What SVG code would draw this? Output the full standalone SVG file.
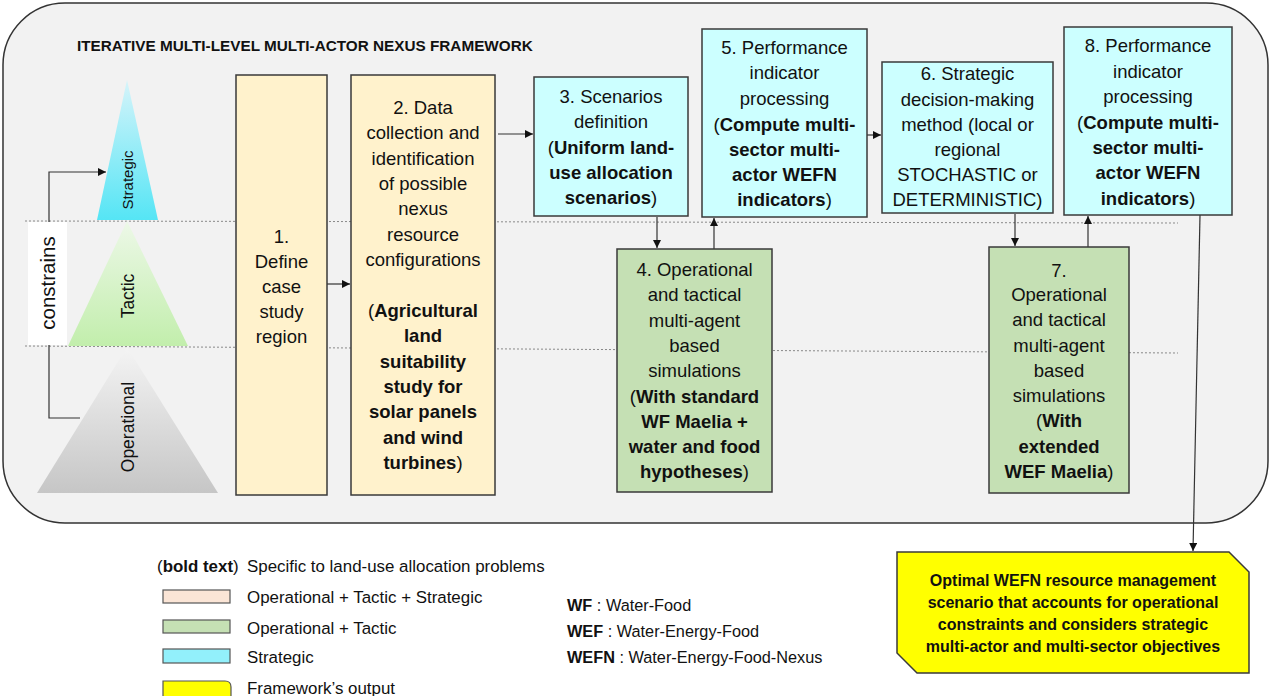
<svg xmlns="http://www.w3.org/2000/svg" width="1271" height="696" viewBox="0 0 1271 696">
<defs>
<style>
text{font-family:"Liberation Sans",Arial,sans-serif;fill:#111;}
.bx{font-size:18.5px;text-anchor:middle;}
.b{font-weight:bold;}
.box{stroke:#3a3a3a;stroke-width:1.5;}
.y{fill:#fff2cc;}
.c{fill:#ccffff;}
.g{fill:#c5e0b4;}
.conn{fill:none;stroke:#333;stroke-width:1.2;}
.dot{stroke:#888;stroke-width:1;stroke-dasharray:2 2;fill:none;}
.lg{font-size:16.9px;}
.ab{font-size:16.3px;}
.out{font-size:16px;font-weight:bold;text-anchor:middle;}
</style>
<marker id="ah" viewBox="0 0 10 10" refX="10" refY="5" markerWidth="8" markerHeight="8" orient="auto" markerUnits="userSpaceOnUse"><path d="M0,0 L10,5 L0,10 z" fill="#111"/></marker>
<linearGradient id="gS" x1="0" y1="0" x2="0" y2="1"><stop offset="0" stop-color="#d6f4fa"/><stop offset="1" stop-color="#55e5f5"/></linearGradient>
<linearGradient id="gT" x1="0" y1="0" x2="0" y2="1"><stop offset="0" stop-color="#edf8e8"/><stop offset="1" stop-color="#c2eeac"/></linearGradient>
<linearGradient id="gO" x1="0" y1="0" x2="0" y2="1"><stop offset="0" stop-color="#f4f4f4"/><stop offset="1" stop-color="#c6c6c6"/></linearGradient>
</defs>
<rect width="1271" height="696" fill="#ffffff"/>
<g id="frame">
<rect x="3" y="3" width="1265" height="520" rx="62" ry="62" fill="#f2f2f2" stroke="#333" stroke-width="1.5"/>
<text x="77" y="51" class="b" style="font-size:15.3px">ITERATIVE MULTI-LEVEL MULTI-ACTOR NEXUS FRAMEWORK</text>
<path class="dot" d="M25,221 L1178,223"/>
<path class="dot" d="M25,346 L1178,353"/>
</g>
<g id="levels">
<polygon points="127,80 158,220 97,220" fill="url(#gS)"/>
<polygon points="127,221 188,346 68,346" fill="url(#gT)"/>
<polygon points="127,347 218,493 37,493" fill="url(#gO)"/>
<text transform="translate(133,180) rotate(-90)" text-anchor="middle" style="font-size:15px">Strategic</text>
<text transform="translate(134,296) rotate(-90)" text-anchor="middle" style="font-size:17.5px">Tactic</text>
<text transform="translate(134,427) rotate(-90)" text-anchor="middle" style="font-size:17.5px">Operational</text>
</g>
<g id="connectors">
<path class="conn" d="M80,418 H49 V172 H106" marker-end="url(#ah)"/>
<path class="conn" d="M327,284 H350" marker-end="url(#ah)"/>
<path class="conn" d="M498,134 H533" marker-end="url(#ah)"/>
<path class="conn" d="M657,217 V248" marker-end="url(#ah)"/>
<path class="conn" d="M714,249 V218" marker-end="url(#ah)"/>
<path class="conn" d="M867,135 H881" marker-end="url(#ah)"/>
<path class="conn" d="M1015,214 V246" marker-end="url(#ah)"/>
<path class="conn" d="M1088,247 V216" marker-end="url(#ah)"/>
<path class="conn" d="M1200,215 L1193,551" marker-end="url(#ah)"/>
</g>
<g id="constrains">
<rect x="28" y="222" width="39" height="123" fill="#ffffff"/>
<text transform="translate(55,283) rotate(-90)" text-anchor="middle" style="font-size:20.5px">constrains</text>
</g>
<g id="n1">
<rect class="box y" x="236" y="75" width="91" height="420"/>
<text class="bx" x="281.5" y="243">1.</text>
<text class="bx" x="281.5" y="268">Define</text>
<text class="bx" x="281.5" y="293">case</text>
<text class="bx" x="281.5" y="318">study</text>
<text class="bx" x="281.5" y="343">region</text>
</g>
<g id="n2">
<rect class="box y" x="351" y="75" width="144" height="420"/>
<text class="bx" x="423" y="114">2. Data</text>
<text class="bx" x="423" y="139.4">collection and</text>
<text class="bx" x="423" y="164.7">identification</text>
<text class="bx" x="423" y="190">of possible</text>
<text class="bx" x="423" y="215.4">nexus</text>
<text class="bx" x="423" y="240.8">resource</text>
<text class="bx" x="423" y="266.1">configurations</text>
<text class="bx" x="423" y="316.8">(<tspan class="b">Agricultural</tspan></text>
<text class="bx b" x="423" y="342.2">land</text>
<text class="bx b" x="423" y="367.5">suitability</text>
<text class="bx b" x="423" y="392.9">study for</text>
<text class="bx b" x="423" y="418.2">solar panels</text>
<text class="bx b" x="423" y="443.6">and wind</text>
<text class="bx" x="423" y="468.9"><tspan class="b">turbines</tspan>)</text>
</g>
<g id="n3">
<rect class="box c" x="534" y="77" width="154" height="139"/>
<text class="bx" x="611" y="103">3. Scenarios</text>
<text class="bx" x="611" y="128">definition</text>
<text class="bx" x="611" y="154">(<tspan class="b">Uniform land-</tspan></text>
<text class="bx b" x="611" y="179">use allocation</text>
<text class="bx" x="611" y="204"><tspan class="b">scenarios</tspan>)</text>
</g>
<g id="n5">
<rect class="box c" x="702" y="29" width="165" height="188"/>
<text class="bx" x="784.5" y="54">5. Performance</text>
<text class="bx" x="784.5" y="79">indicator</text>
<text class="bx" x="784.5" y="105">processing</text>
<text class="bx" x="784.5" y="131">(<tspan class="b">Compute multi-</tspan></text>
<text class="bx b" x="784.5" y="156">sector multi-</text>
<text class="bx b" x="784.5" y="181">actor WEFN</text>
<text class="bx" x="784.5" y="206"><tspan class="b">indicators</tspan>)</text>
</g>
<g id="n4">
<rect class="box g" x="617" y="249" width="155" height="243"/>
<text class="bx" x="694.5" y="276">4. Operational</text>
<text class="bx" x="694.5" y="301">and tactical</text>
<text class="bx" x="694.5" y="327">multi-agent</text>
<text class="bx" x="694.5" y="352">based</text>
<text class="bx" x="694.5" y="377">simulations</text>
<text class="bx" x="694.5" y="403">(<tspan class="b">With standard</tspan></text>
<text class="bx b" x="694.5" y="428">WF Maelia +</text>
<text class="bx b" x="694.5" y="453">water and food</text>
<text class="bx" x="694.5" y="478"><tspan class="b">hypotheses</tspan>)</text>
</g>
<g id="n6">
<rect class="box c" x="882" y="62" width="171" height="151"/>
<text class="bx" x="967.5" y="80">6. Strategic</text>
<text class="bx" x="967.5" y="106">decision-making</text>
<text class="bx" x="967.5" y="131">method (local or</text>
<text class="bx" x="967.5" y="156">regional</text>
<text class="bx" x="967.5" y="181">STOCHASTIC or</text>
<text class="bx" x="967.5" y="206">DETERMINISTIC)</text>
</g>
<g id="n8">
<rect class="box c" x="1064" y="27" width="168" height="188"/>
<text class="bx" x="1148" y="52">8. Performance</text>
<text class="bx" x="1148" y="78">indicator</text>
<text class="bx" x="1148" y="103">processing</text>
<text class="bx" x="1148" y="129">(<tspan class="b">Compute multi-</tspan></text>
<text class="bx b" x="1148" y="154">sector multi-</text>
<text class="bx b" x="1148" y="179">actor WEFN</text>
<text class="bx" x="1148" y="205"><tspan class="b">indicators</tspan>)</text>
</g>
<g id="n7">
<rect class="box g" x="989" y="247" width="140" height="246"/>
<text class="bx" x="1059" y="277">7.</text>
<text class="bx" x="1059" y="301">Operational</text>
<text class="bx" x="1059" y="326">and tactical</text>
<text class="bx" x="1059" y="352">multi-agent</text>
<text class="bx" x="1059" y="377">based</text>
<text class="bx" x="1059" y="402">simulations</text>
<text class="bx" x="1059" y="427">(<tspan class="b">With</tspan></text>
<text class="bx b" x="1059" y="453">extended</text>
<text class="bx" x="1059" y="478"><tspan class="b">WEF Maelia</tspan>)</text>
</g>
<g id="output">
<path d="M897,552 H1229 L1249,572 V673 H917 L897,653 Z" fill="#ffff00" stroke="#3a3a3a" stroke-width="1.5"/>
<text class="out" x="1073" y="586">Optimal WEFN resource management</text>
<text class="out" x="1073" y="608">scenario that accounts for operational</text>
<text class="out" x="1073" y="630">constraints and considers strategic</text>
<text class="out" x="1073" y="652">multi-actor and multi-sector objectives</text>
</g>
<g id="legend">
<text class="lg" x="157" y="572">(<tspan class="b">bold text</tspan>)</text>
<text class="lg" x="247" y="572">Specific to land-use allocation problems</text>
<rect x="163" y="590" width="67" height="13" fill="#fbe5d6" stroke="#555" stroke-width="1.2"/>
<text class="lg" x="247" y="603">Operational + Tactic + Strategic</text>
<rect x="163" y="620" width="67" height="13" fill="#c5e0b4" stroke="#555" stroke-width="1.2"/>
<text class="lg" x="247" y="634">Operational + Tactic</text>
<rect x="163" y="649" width="67" height="14" fill="#92f0fb" stroke="#555" stroke-width="1.2"/>
<text class="lg" x="247" y="663">Strategic</text>
<path d="M163,700 V681 H225 Q231,681 231,687 V700" fill="#ffff00" stroke="#555" stroke-width="1.2"/>
<text class="lg" x="247" y="694">Framework’s output</text>
</g>
<g id="abbrev">
<text class="ab" x="567" y="611"><tspan class="b">WF</tspan> : Water-Food</text>
<text class="ab" x="567" y="637"><tspan class="b">WEF</tspan> : Water-Energy-Food</text>
<text class="ab" x="567" y="663"><tspan class="b">WEFN</tspan> : Water-Energy-Food-Nexus</text>
</g>
</svg>
